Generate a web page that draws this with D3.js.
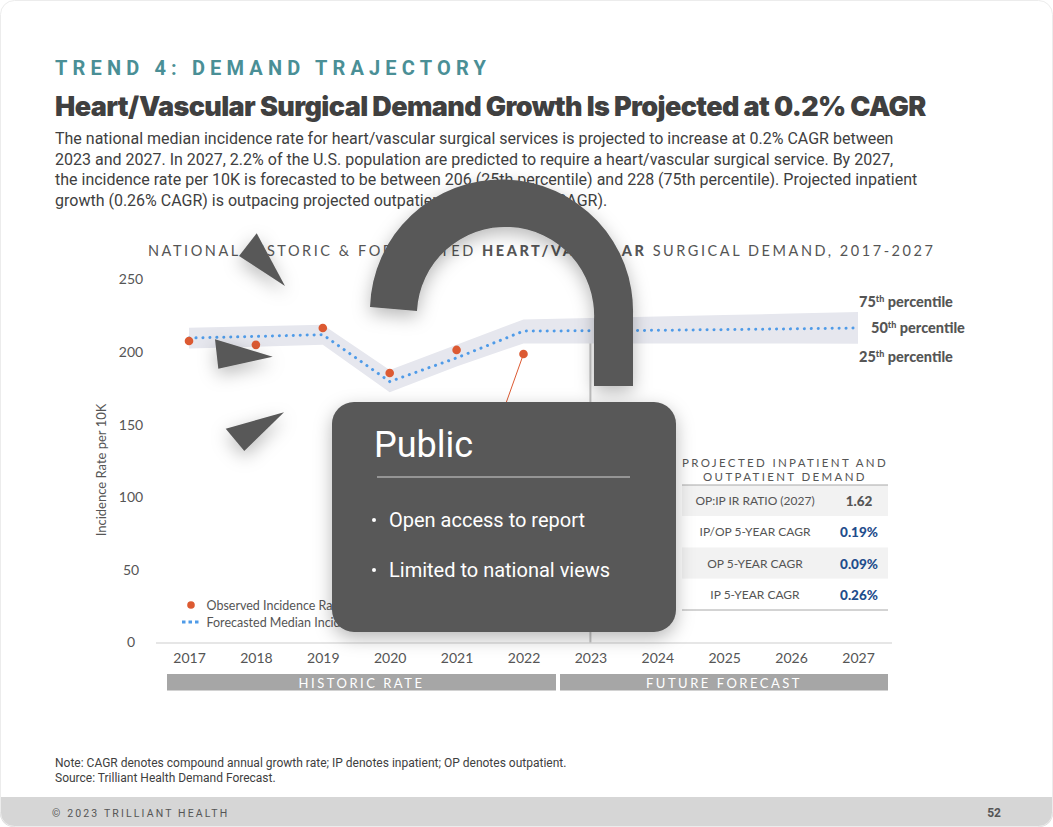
<!DOCTYPE html>
<html>
<head>
<meta charset="utf-8">
<script src="https://cdn.jsdelivr.net/npm/d3@7"></script>
<style>
  html, body { margin: 0; padding: 0; background: #fff; overflow: hidden; }
  svg { display: block; }
  text { font-family: Lato, sans-serif; fill: #555; }
  .rb text, text.rb { font-family: Roboto, sans-serif; }
</style>
</head>
<body>
<div id="chart-area"></div>
<script>
// chart values
const years = [2017, 2018, 2019, 2020, 2021, 2022, 2023, 2024, 2025, 2026, 2027];
const observedYears = [2017, 2018, 2019, 2020, 2021, 2022];
const observed = [207.6, 205, 216.6, 185.6, 201.5, 198.7];
const median = [209.7, 210.8, 212, 179.7, 196, 214.5, 214.7, 215, 215.5, 216, 216.6];
const p75 = [216.8, 217.8, 218.9, 187.7, 205, 222.5, 223.5, 224.5, 225.5, 226.5, 227.6];
const p25 = [202.4, 203.7, 205, 172.3, 190, 206, 206, 206, 205.9, 205.9, 205.8];
const yTicks = [0, 50, 100, 150, 200, 250];

const tableTitle = ["PROJECTED INPATIENT AND", "OUTPATIENT DEMAND"];
const tableLabels = ["OP:IP IR RATIO (2027)", "IP/OP 5-YEAR CAGR", "OP 5-YEAR CAGR", "IP 5-YEAR CAGR"];
const tableValues = ["1.62", "0.19%", "0.09%", "0.26%"];

const bodyLines = [
  "The national median incidence rate for heart/vascular surgical services is projected to increase at 0.2% CAGR between",
  "2023 and 2027. In 2027, 2.2% of the U.S. population are predicted to require a heart/vascular surgical service. By 2027,",
  "the incidence rate per 10K is forecasted to be between 206 (25th percentile) and 228 (75th percentile). Projected inpatient",
  "growth (0.26% CAGR) is outpacing projected outpatient growth (0.09% CAGR)."
];
const percentiles = [["75", 859, 307], ["50", 871, 333], ["25", 859, 362]];
const bullets = ["Open access to report", "Limited to national views"];

const width = 1053, height = 827;

let svg = d3.select("#chart-area")
  .append("svg")
    .attr("width", width)
    .attr("height", height);

let defs = svg.append("defs");
let shadow = defs.append("filter").attr("id", "shadow")
  .attr("x", "-40%").attr("y", "-40%").attr("width", "180%").attr("height", "180%");
shadow.append("feDropShadow")
  .attr("dx", 0).attr("dy", 6).attr("stdDeviation", 9)
  .attr("flood-color", "#000").attr("flood-opacity", 0.28);
defs.append("clipPath").attr("id", "page")
  .append("rect").attr("width", width).attr("height", height).attr("rx", 14);

// page and footer
let page = svg.append("g").attr("clip-path", "url(#page)");
page.append("rect").attr("width", width).attr("height", height).attr("fill", "#fff");
page.append("rect").attr("y", 797).attr("width", width).attr("height", 30).attr("fill", "#d6d6d6");
svg.append("rect").attr("x", 0.5).attr("y", 0.5).attr("width", width - 1).attr("height", height - 1)
  .attr("rx", 14).attr("fill", "none").attr("stroke", "#ececec");

// header
svg.append("text").attr("class", "rb")
  .attr("x", 55).attr("y", 75)
  .attr("font-size", 20).attr("font-weight", 700).attr("letter-spacing", 5.15)
  .style("fill", "#4a8f96")
  .text("TREND 4: DEMAND TRAJECTORY");

svg.append("text")
  .attr("x", 55).attr("y", 116)
  .style("font-family", "Inter")
  .attr("font-size", 27).attr("font-weight", 900).attr("letter-spacing", -0.62)
  .style("fill", "#404040")
  .text("Heart/Vascular Surgical Demand Growth Is Projected at 0.2% CAGR");

svg.append("g").attr("class", "rb")
  .selectAll("text").data(bodyLines).enter().append("text")
    .attr("x", 55)
    .attr("y", (d, i) => 144 + i * 20.7)
    .attr("font-size", 16)
    .style("fill", "#404040")
    .text(d => d);

// chart title
let chartTitle = svg.append("text")
  .attr("x", 148).attr("y", 256)
  .attr("font-size", 14.5).attr("letter-spacing", 2.55);
chartTitle.append("tspan").text("NATIONAL HISTORIC & FORECASTED ");
chartTitle.append("tspan").attr("font-weight", 900).text("HEART/VASCULAR");
chartTitle.append("tspan").text(" SURGICAL DEMAND, 2017-2027");

// scales
let x = d3.scalePoint().domain(years).range([189, 858]);
let y = d3.scaleLinear().domain([0, 250]).range([642.5, 279.5]);

// axes
let xAxisCall = d3.axisBottom(x).tickSize(0).tickPadding(0).tickFormat(d3.format("d"));
let xAxis = svg.append("g").attr("transform", "translate(0, 653)").call(xAxisCall);
xAxis.select(".domain").remove();
xAxis.selectAll("text").attr("font-size", 14).style("font-family", "Lato, sans-serif").style("fill", "#555");

let yAxisCall = d3.axisLeft(y).tickValues(yTicks).tickSize(0).tickPadding(0);
let yAxis = svg.append("g").attr("transform", "translate(131, 0)").call(yAxisCall);
yAxis.select(".domain").remove();
yAxis.selectAll("text").attr("text-anchor", "middle").attr("font-size", 14)
  .style("font-family", "Lato, sans-serif").style("fill", "#555");

svg.append("line")
  .attr("x1", 156).attr("x2", 892).attr("y1", 643).attr("y2", 643)
  .attr("stroke", "#dedede").attr("stroke-width", 1.5);

svg.append("text")
  .attr("transform", "translate(106, 470) rotate(-90)")
  .attr("text-anchor", "middle")
  .attr("font-size", 13)
  .text("Incidence Rate per 10K");

// 2023 divider
svg.append("line")
  .attr("x1", x(2023)).attr("x2", x(2023))
  .attr("y1", y(222)).attr("y2", y(0))
  .attr("stroke", "#c4c4c4").attr("stroke-width", 2);

// percentile band
let area = d3.area()
  .x(d => x(d))
  .y0((d, i) => y(p25[i]))
  .y1((d, i) => y(p75[i]));
svg.append("path").datum(years)
  .attr("d", area)
  .attr("fill", "#e6e7ee");

// forecast median
let line = d3.line().x(d => x(d)).y((d, i) => y(median[i]));
svg.append("path").datum(years)
  .attr("d", line)
  .attr("fill", "none")
  .attr("stroke", "#4f9be8").attr("stroke-width", 3)
  .attr("stroke-linecap", "round").attr("stroke-dasharray", "0.1 6.85");

// leader from the 2022 point
svg.append("line")
  .attr("x1", x(2022)).attr("y1", y(observed[5]))
  .attr("x2", x(2022) - 20).attr("y2", y(160))
  .attr("stroke", "#dc5a32").attr("stroke-width", 1);

// observed points
svg.selectAll("circle.obs").data(observed).enter().append("circle")
  .attr("class", "obs")
  .attr("cx", (d, i) => x(observedYears[i]))
  .attr("cy", d => y(d))
  .attr("r", 4.3)
  .attr("fill", "#dc5a32");

// percentile labels
let pLabels = svg.selectAll("text.pct").data(percentiles).enter().append("text")
  .attr("class", "pct")
  .attr("x", d => d[1]).attr("y", d => d[2])
  .attr("font-size", 14.5).attr("font-weight", 900);
pLabels.append("tspan").text(d => d[0]);
pLabels.append("tspan").attr("font-size", 9).attr("dy", -5).text("th");
pLabels.append("tspan").attr("dy", 5).text(" percentile");

// legend
svg.append("circle").attr("cx", 191).attr("cy", 605).attr("r", 3.8).attr("fill", "#dc5a32");
svg.append("line").attr("x1", 182).attr("x2", 201).attr("y1", 622).attr("y2", 622)
  .attr("stroke", "#4f9be8").attr("stroke-width", 3).attr("stroke-dasharray", "3.5 3");
svg.append("text").attr("x", 206.5).attr("y", 610).attr("font-size", 12.5).text("Observed Incidence Rate");
svg.append("text").attr("x", 206.5).attr("y", 627).attr("font-size", 12.5).text("Forecasted Median Incidence Rate");

// period bars
let periods = svg.selectAll("g.period")
  .data([["HISTORIC RATE", 167, 556], ["FUTURE FORECAST", 560, 888]])
  .enter().append("g").attr("class", "period");
periods.append("rect")
  .attr("x", d => d[1]).attr("y", 674)
  .attr("width", d => d[2] - d[1]).attr("height", 16.5)
  .attr("fill", "#a6a6a6");
periods.append("text")
  .attr("x", d => (d[1] + d[2]) / 2).attr("y", 688)
  .attr("text-anchor", "middle")
  .attr("font-size", 13).attr("letter-spacing", 2.5)
  .style("fill", "#fff")
  .text(d => d[0]);

// table
svg.selectAll("text.ttitle").data(tableTitle).enter().append("text")
  .attr("class", "ttitle")
  .attr("x", 785).attr("y", (d, i) => 467 + i * 14)
  .attr("text-anchor", "middle")
  .attr("font-size", 11.5).attr("letter-spacing", 2.35)
  .text(d => d);

let rowY = d3.scaleBand().domain(d3.range(tableLabels.length)).range([485, 610]);
svg.selectAll("rect.row").data(tableLabels).enter().append("rect")
  .attr("class", "row")
  .attr("x", 682).attr("width", 206)
  .attr("y", (d, i) => rowY(i)).attr("height", rowY.bandwidth())
  .attr("fill", (d, i) => i % 2 == 0 ? "#f2f2f2" : "#fff");
svg.selectAll("text.rlabel").data(tableLabels).enter().append("text")
  .attr("class", "rlabel")
  .attr("x", 755).attr("y", (d, i) => rowY(i) + 20)
  .attr("text-anchor", "middle")
  .attr("font-size", 12)
  .text(d => d);
svg.selectAll("text.rvalue").data(tableValues).enter().append("text")
  .attr("class", "rvalue")
  .attr("x", 859).attr("y", (d, i) => rowY(i) + 21)
  .attr("text-anchor", "middle")
  .attr("font-size", 13.5).attr("font-weight", 900)
  .style("fill", (d, i) => i == 0 ? "#555" : "#1f4d8c")
  .text(d => d);
svg.selectAll("line.rule").data([485, 610]).enter().append("line")
  .attr("class", "rule")
  .attr("x1", 682).attr("x2", 888).attr("y1", d => d).attr("y2", d => d)
  .attr("stroke", "#a8a8a8").attr("stroke-width", 1);

// note and footer text
let foot = svg.append("g").attr("class", "rb");
foot.selectAll("text.note")
  .data(["Note: CAGR denotes compound annual growth rate; IP denotes inpatient; OP denotes outpatient.",
         "Source: Trilliant Health Demand Forecast."])
  .enter().append("text")
    .attr("class", "note")
    .attr("x", 55).attr("y", (d, i) => 767 + i * 15)
    .attr("font-size", 12)
    .style("fill", "#404040")
    .text(d => d);
foot.append("text")
  .attr("x", 52).attr("y", 817)
  .attr("font-size", 10.5).attr("letter-spacing", 2.15)
  .text("© 2023 TRILLIANT HEALTH");
foot.append("text")
  .attr("x", 1001).attr("y", 817)
  .attr("text-anchor", "end")
  .attr("font-size", 12).attr("font-weight", 700)
  .text("52");

// padlock overlay
let overlay = svg.append("g").attr("filter", "url(#shadow)");
overlay.selectAll("path.tri")
  .data([
    "M256.7,233.3L239,256L285,286Z",
    "M215,339.3L218.3,368.7L272.7,356.7Z",
    "M225.7,428.7L244.3,451L284,412.3Z"
  ])
  .enter().append("path")
    .attr("class", "tri")
    .attr("d", d => d)
    .attr("fill", "#595959");
overlay.append("path")
  .attr("d", "M370,307A131.5,131.5 0 0 1 633,315L633,386L594,386L594,320A88.5,88.5 0 0 0 417,311Z")
  .attr("fill", "#595959");
overlay.append("rect")
  .attr("x", 332).attr("y", 402).attr("width", 344).attr("height", 230).attr("rx", 22)
  .attr("fill", "#595959");

let card = svg.append("g").attr("class", "rb");
card.append("text").attr("x", 374).attr("y", 457)
  .attr("font-size", 36).style("fill", "#fff").text("Public");
card.append("line").attr("x1", 377).attr("x2", 630).attr("y1", 477).attr("y2", 477)
  .attr("stroke", "#aaa").attr("stroke-width", 1.5);
card.selectAll("text.bullet").data(bullets).enter().append("text")
  .attr("class", "bullet")
  .attr("x", 389).attr("y", (d, i) => 527 + i * 50)
  .attr("font-size", 20).style("fill", "#fff")
  .text(d => d);
card.selectAll("circle.dot").data(bullets).enter().append("circle")
  .attr("class", "dot")
  .attr("cx", 374).attr("cy", (d, i) => 520 + i * 50)
  .attr("r", 2).attr("fill", "#fff");
</script>
</body>
</html>
